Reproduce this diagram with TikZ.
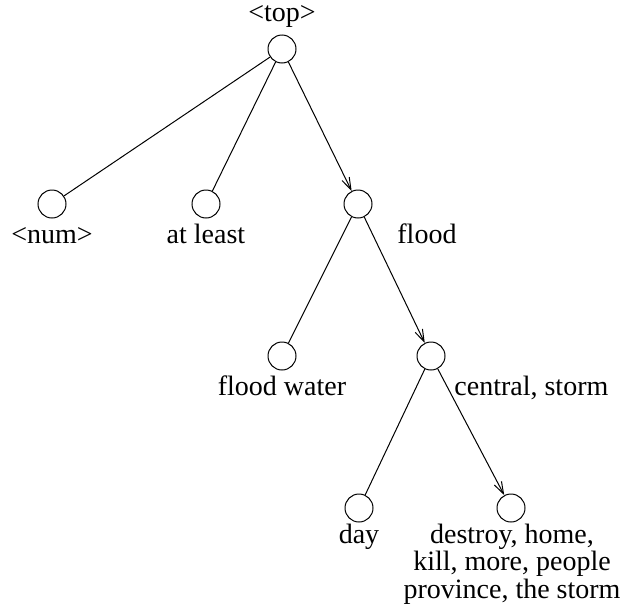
\documentclass[tikz,border=0pt]{standalone}
\usepackage{fontspec}
\setmainfont{Liberation Serif}
\usetikzlibrary{arrows.meta}

\tikzset{
  vert/.style={draw, circle, minimum size=14pt, inner sep=0pt, line width=0.5pt},
  word/.style={inner sep=0pt, font=\fontsize{14}{13.75}\selectfont},
  edge/.style={line width=0.5pt},
  arc/.style={edge, -{Straight Barb[length=6pt,width=4pt]}}
}

\begin{document}
\begin{tikzpicture}[x=0.5pt, y=-0.5pt]
    \useasboundingbox (0,0) rectangle (621,611);
    % the vertices of the tree
    \node[vert] (top)     at (282,49)  {};
    \node[vert] (num)     at (52,204)  {};
    \node[vert] (least)   at (206,204) {};
    \node[vert] (flood)   at (358,204) {};
    \node[vert] (water)   at (282,356) {};
    \node[vert] (central) at (431,356) {};
    \node[vert] (day)     at (359,508) {};
    \node[vert] (destroy) at (511,508) {};

    % the words at each vertex
    \node[word, anchor=base] (ltop) at (282,21) {<top>};
    \node[word, anchor=base] (lnum) at (52,243) {<num>};
    \node[word, anchor=base] (lleast) at (206,243) {at least};
    \node[word, anchor=base west] (lflood) at (397,243) {flood};
    \node[word, anchor=base] (lwater) at (282,395) {flood water};
    \node[word, anchor=base west] (lcentral) at (454,395) {central, storm};
    \node[word, anchor=base] (lday) at (359,543) {day};
    % base of a multi-line node is its last line
    \node[word, anchor=base, align=center] (ldestroy) at (512,598)
        {destroy, home,\\ kill, more, people\\ province, the storm};

    % the edges, the path is drawn with arrows
    \draw[edge] (top) -- (num);
    \draw[edge] (top) -- (least);
    \draw[arc]  (top) -- (flood);
    \draw[edge] (flood) -- (water);
    \draw[arc]  (flood) -- (central);
    \draw[edge] (central) -- (day);
    \draw[arc]  (central) -- (destroy);
\end{tikzpicture}
\end{document}
